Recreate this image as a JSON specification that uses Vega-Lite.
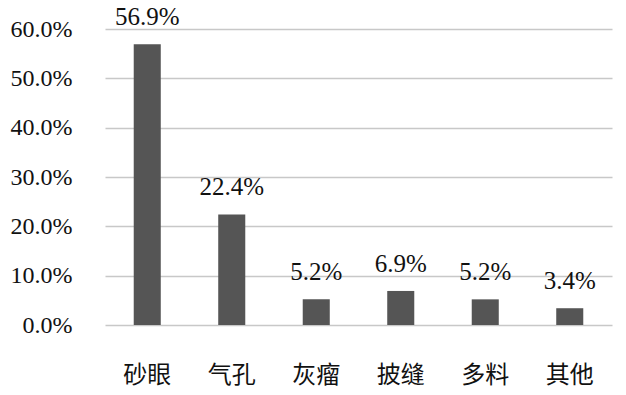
{
  "$schema": "https://vega.github.io/schema/vega-lite/v6.json",
  "autosize": {"type": "none"},
  "padding": {"left": 105, "top": 29, "right": 14, "bottom": 70},
  "width": 507,
  "height": 296,
  "background": "white",
  "config": {"view": {"stroke": null}},
  "data": {"values": [
    {"cat": "砂眼", "v": 0.569},
    {"cat": "气孔", "v": 0.224},
    {"cat": "灰瘤", "v": 0.052},
    {"cat": "披缝", "v": 0.069},
    {"cat": "多料", "v": 0.052},
    {"cat": "其他", "v": 0.034}
  ]},
  "encoding": {
    "x": {"field": "cat", "type": "nominal", "sort": null,
      "scale": {"paddingInner": 0.68, "paddingOuter": 0.34},
      "axis": {"title": null, "domain": false, "ticks": false, "labelAngle": 0,
        "labelFont": "Noto Sans CJK SC", "labelFontSize": 24, "labelColor": "#111",
        "labelPadding": 38}},
    "y": {"field": "v", "type": "quantitative",
      "scale": {"domain": [0, 0.6]},
      "axis": {"title": null, "format": ".1%", "values": [0, 0.1, 0.2, 0.3, 0.4, 0.5, 0.6],
        "labelOverlap": false, "labelBound": false,
        "domain": false, "ticks": false, "gridColor": "#c8c8c8", "gridWidth": 1.5,
        "labelFont": "Liberation Serif, DejaVu Serif, serif", "labelFontSize": 24, "labelColor": "#111",
        "labelPadding": 33}}
  },
  "layer": [
    {"mark": {"type": "bar", "color": "#555555"}},
    {"mark": {"type": "text", "baseline": "alphabetic", "dy": -19, "font": "Liberation Serif, DejaVu Serif, serif", "fontSize": 25, "color": "#111"},
     "encoding": {"text": {"field": "v", "type": "quantitative", "format": ".1%"}}}
  ]
}
